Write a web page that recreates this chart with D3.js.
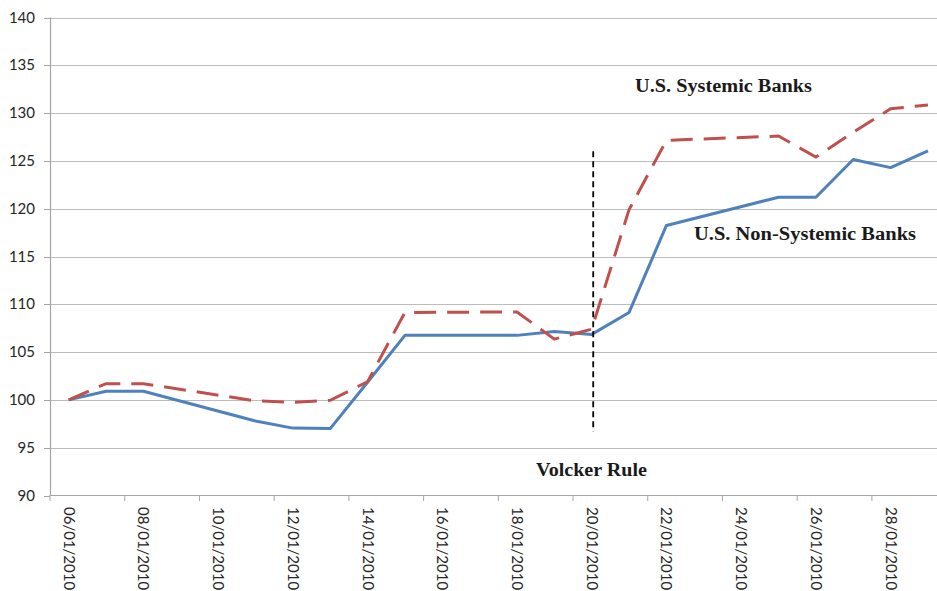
<!DOCTYPE html>
<html>
<head>
	<title>Systemic vs non-systemic banks</title>
	<script src="https://d3js.org/d3.v7.min.js"></script>
	<style>
		html, body {
			margin: 0px;
			background: #fff;
		}
		svg text.tick { font-family: Lato, "Open Sans", sans-serif; font-size: 15px; fill: #262626; }
		svg text.note { font-family: "Liberation Serif", "DejaVu Serif", serif; font-weight: bold; font-size: 18px; fill: #1a1a1a; }
	</style>
</head>
<body>
<div id="chart"></div>
<script type="text/javascript">

	// trading days, dd/mm/yyyy
	var dates = ["06/01/2010","07/01/2010","08/01/2010","11/01/2010","12/01/2010","13/01/2010",
		"14/01/2010","15/01/2010","18/01/2010","19/01/2010","20/01/2010","21/01/2010",
		"22/01/2010","25/01/2010","26/01/2010","27/01/2010","28/01/2010","29/01/2010"];

	var systemic = [100, 101.7, 101.7, 99.9, 99.75, 99.95,
		101.9, 109.15, 109.2, 106.35, 107.4, 119.9,
		127.15, 127.6, 125.4, 128, 130.45, 130.85];

	var nonSystemic = [100, 100.9, 100.9, 97.8, 97.05, 97.0,
		101.85, 106.75, 106.75, 107.15, 106.85, 109.15,
		118.25, 121.2, 121.2, 125.15, 124.3, 126.05];

	var yTicks = [90, 95, 100, 105, 110, 115, 120, 125, 130, 135, 140];
	var xTickLabels = ["06/01/2010","08/01/2010","10/01/2010","12/01/2010","14/01/2010","16/01/2010",
		"18/01/2010","20/01/2010","22/01/2010","24/01/2010","26/01/2010","28/01/2010"];

	var eventDate = "20/01/2010";

	var W = 937, H = 591;
	var parse = d3.utcParse("%d/%m/%Y");
	var halfDay = 12 * 3600 * 1000;

	var x = d3.scaleUtc()
		.domain([new Date(+parse("06/01/2010") - halfDay), new Date(+parse("29/01/2010") + halfDay)])
		.range([50, 50 + 37.36 * 24]);
	var y = d3.scaleLinear().domain([90, 140]).range([495.5, 17.5]);

	var svg = d3.select("#chart").append("svg")
		.attr("width", W).attr("height", H);

	// horizontal gridlines
	svg.append("g").selectAll("line").data(yTicks.slice(1)).enter()
		.append("line")
		.attr("x1", 50).attr("x2", W)
		.attr("y1", function(d){ return Math.round(y(d)) + 0.5 })
		.attr("y2", function(d){ return Math.round(y(d)) + 0.5 })
		.style("stroke", "#bcbcbc").style("stroke-width", 1.2);

	// y axis
	var yAxis = svg.append("g");
	yAxis.append("line")
		.attr("x1", 50.5).attr("x2", 50.5).attr("y1", y(140)).attr("y2", y(90))
		.style("stroke", "#a6a6a6").style("stroke-width", 1.2);
	yAxis.selectAll("line.t").data(yTicks).enter().append("line")
		.attr("class", "t")
		.attr("x1", 44).attr("x2", 50)
		.attr("y1", function(d){ return Math.round(y(d)) + 0.5 })
		.attr("y2", function(d){ return Math.round(y(d)) + 0.5 })
		.style("stroke", "#a6a6a6");
	yAxis.selectAll("text").data(yTicks).enter().append("text")
		.attr("class", "tick")
		.attr("x", 35).attr("y", function(d){ return y(d) + 5 })
		.attr("text-anchor", "end")
		.text(function(d){ return d });

	// x axis
	var xAxis = svg.append("g");
	xAxis.append("line")
		.attr("x1", 50).attr("x2", W).attr("y1", 495.5).attr("y2", 495.5)
		.style("stroke", "#a6a6a6").style("stroke-width", 1.2);
	xAxis.selectAll("line.t").data(xTickLabels).enter().append("line")
		.attr("class", "t")
		.attr("x1", function(d){ return x(new Date(+parse(d) - halfDay)) })
		.attr("x2", function(d){ return x(new Date(+parse(d) - halfDay)) })
		.attr("y1", 495).attr("y2", 501)
		.style("stroke", "#a6a6a6");
	xAxis.selectAll("text").data(xTickLabels).enter().append("text")
		.attr("class", "tick")
		.attr("transform", function(d){ return "translate(" + (x(parse(d)) - 5) + ",507) rotate(90)" })
		.attr("text-anchor", "start")
		.text(function(d){ return d });

	// series
	var line = d3.line()
		.x(function(d){ return x(parse(d[0])) })
		.y(function(d){ return y(d[1]) });

	svg.append("path")
		.datum(d3.zip(dates, nonSystemic))
		.attr("d", line)
		.style("fill", "none").style("stroke", "#4f81bd").style("stroke-width", 3)
		.style("stroke-linejoin", "round");

	svg.append("path")
		.datum(d3.zip(dates, systemic))
		.attr("d", line)
		.style("fill", "none").style("stroke", "#c0504d").style("stroke-width", 3)
		.style("stroke-dasharray", "22,11");

	// event marker
	svg.append("line")
		.attr("x1", x(parse(eventDate)) + 1.5).attr("x2", x(parse(eventDate)) + 1.5)
		.attr("y1", y(126)).attr("y2", y(96.7))
		.style("stroke", "#000").style("stroke-width", 1.8)
		.style("stroke-dasharray", "6,4");

	// annotations (width stretched to match the wider serif in the original)
	function note(txt, px, py, w) {
		svg.append("text").attr("class", "note")
			.attr("x", px).attr("y", py)
			.attr("textLength", w).attr("lengthAdjust", "spacingAndGlyphs")
			.text(txt);
	}
	note("U.S. Systemic Banks", 635, 92, 177);
	note("U.S. Non-Systemic Banks", 694, 240, 222);
	note("Volcker Rule", 536, 476, 111);

</script>
</body>
</html>
